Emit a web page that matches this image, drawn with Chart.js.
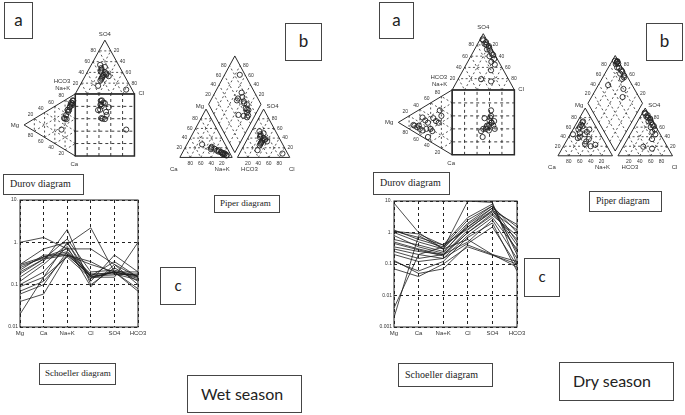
<!DOCTYPE html>
<html lang="en">
<head>
  <meta charset="UTF-8">
  <title>Hydrochemical facies - wet and dry season</title>
  <script src="https://cdn.jsdelivr.net/npm/chart.js"></script>
  <style>
    body { margin: 0; background: #fff; }
    .page { position: relative; width: 685px; height: 415px; overflow: hidden; background: #fff; }
    .plot { position: absolute; }
    .box {
      position: absolute;
      box-sizing: border-box;
      border: 1.5px solid #454545;
      background: #fff;
      color: #222;
      white-space: nowrap;
    }
    .letter { font-family: Lato, "Open Sans", sans-serif; font-size: 17px; text-align: center; }
    .caption { font-family: "Liberation Serif", serif; font-size: 10px; padding-left: 6px; }
    .season { font-family: Lato, "Open Sans", sans-serif; font-size: 16px; padding-left: 13px; }
  </style>
</head>
<body>
<div class="page">
  <!-- wet season -->
  <div class="box letter" style="left:4px;top:2px;width:29px;height:37px;line-height:33px;">a</div>
  <div class="plot" id="durovWetBox"><canvas id="durovWet"></canvas></div>
  <div class="box caption" style="left:3px;top:174px;width:81px;height:21px;line-height:18px;">Durov diagram</div>
  <div class="box letter" style="left:285px;top:23px;width:37px;height:38px;line-height:34px;">b</div>
  <div class="plot" id="piperWetBox"><canvas id="piperWet"></canvas></div>
  <div class="box caption" style="left:214px;top:195px;width:66px;height:18px;line-height:15px;font-size:9px;padding-left:5px;">Piper diagram</div>
  <div class="plot" id="schWetBox" style="left:0px;top:195px;width:150px;height:145px;"><canvas id="schWet"></canvas></div>
  <div class="box letter" style="left:160px;top:267px;width:36px;height:38px;line-height:34px;font-size:15px;">c</div>
  <div class="box caption" style="left:39px;top:363px;width:77px;height:22px;line-height:19px;font-size:9px;padding-left:5px;">Schoeller diagram</div>
  <div class="box season" style="left:187px;top:375px;width:115px;height:38px;line-height:35px;">Wet season</div>

  <!-- dry season -->
  <div class="box letter" style="left:379px;top:2px;width:35px;height:37px;line-height:33px;">a</div>
  <div class="plot" id="durovDryBox"><canvas id="durovDry"></canvas></div>
  <div class="box caption" style="left:373px;top:172px;width:77px;height:23px;line-height:20px;">Durov diagram</div>
  <div class="box letter" style="left:646px;top:23px;width:37px;height:38px;line-height:34px;">b</div>
  <div class="plot" id="piperDryBox"><canvas id="piperDry"></canvas></div>
  <div class="box caption" style="left:589px;top:191px;width:73px;height:21px;line-height:18px;font-size:9.5px;">Piper diagram</div>
  <div class="plot" id="schDryBox" style="left:370px;top:195px;width:160px;height:145px;"><canvas id="schDry"></canvas></div>
  <div class="box letter" style="left:524px;top:258px;width:36px;height:39px;line-height:35px;font-size:15px;">c</div>
  <div class="box caption" style="left:398px;top:363px;width:95px;height:24px;line-height:21px;">Schoeller diagram</div>
  <div class="box season" style="left:559px;top:362px;width:115px;height:39px;line-height:36px;">Dry season</div>
</div>
<script>
  // Schoeller categories and axis ticks
  const ions = ['Mg', 'Ca', 'Na+K', 'Cl', 'SO4', 'HCO3'];
  const wetTicks = [0.01, 0.1, 1, 10];
  const dryTicks = [0.001, 0.01, 0.1, 1, 10];
  const pctTicks = [20, 40, 60, 80];

  // wet season, % of meq/l
  const wetCa   = [10, 12, 8, 15, 20, 18, 25, 30, 44, 32, 14, 9, 22, 28, 12, 16];
  const wetMg   = [8, 6, 5, 10, 12, 15, 18, 20, 27, 17, 7, 4, 14, 22, 9, 11];
  const wetNaK  = [82, 82, 87, 75, 68, 67, 57, 50, 29, 51, 79, 87, 64, 50, 79, 73];
  const wetHCO3 = [35, 30, 40, 33, 54, 31, 28, 38, 10, 25, 45, 36, 30, 42, 32, 27];
  const wetSO4  = [35, 40, 30, 45, 15, 54, 38, 32, 8, 50, 25, 42, 36, 28, 48, 33];
  const wetCl   = [30, 30, 30, 22, 31, 15, 34, 30, 82, 25, 30, 22, 34, 30, 20, 40];

  // wet season Schoeller, meq/l in order Mg, Ca, Na+K, Cl, SO4, HCO3
  const wetSchoeller = [
    [1.0, 1.3, 0.7, 0.7, 0.3, 0.15],
    [0.3, 0.7, 1.0, 0.15, 0.2, 0.2],
    [0.25, 0.45, 0.6, 0.18, 0.18, 0.17],
    [0.2, 0.4, 0.5, 0.17, 0.2, 0.15],
    [0.15, 0.35, 2.0, 0.1, 0.25, 0.12],
    [0.12, 0.3, 0.9, 2.2, 0.2, 0.08],
    [0.09, 0.15, 1.0, 0.12, 0.5, 0.2],
    [0.07, 0.12, 0.5, 0.16, 0.35, 0.15],
    [0.06, 0.1, 0.6, 0.15, 0.15, 1.0],
    [0.04, 0.06, 0.5, 0.3, 0.2, 0.07],
    [0.02, 0.15, 0.45, 0.14, 0.2, 0.14],
    [0.3, 0.45, 0.7, 0.16, 0.17, 0.18],
    [0.18, 0.4, 1.2, 0.2, 0.22, 0.16],
    [0.22, 0.5, 0.5, 0.35, 0.18, 0.13],
    [0.1, 0.2, 0.8, 0.09, 0.3, 0.1],
    [0.28, 0.42, 0.55, 0.15, 0.2, 0.16]
  ];

  // dry season, % of meq/l
  const dryCa   = [30, 25, 35, 20, 28, 40, 22, 18, 45, 33, 26, 38, 15, 30, 50, 24, 36, 20];
  const dryMg   = [60, 65, 55, 70, 45, 40, 50, 72, 37, 30, 35, 25, 55, 20, 45, 62, 48, 23];
  const dryNaK  = [10, 10, 10, 10, 27, 20, 28, 10, 18, 37, 39, 37, 30, 50, 5, 14, 16, 57];
  const dryHCO3 = [3, 5, 2, 8, 4, 6, 10, 3, 44, 5, 7, 12, 4, 20, 6, 3, 9, 30];
  const drySO4  = [85, 80, 78, 72, 65, 88, 60, 75, 19, 55, 82, 50, 70, 35, 90, 62, 45, 15];
  const dryCl   = [12, 15, 20, 20, 31, 6, 30, 22, 37, 40, 11, 38, 26, 45, 4, 35, 46, 55];

  const drySchoeller = [
    [8.6, 1.0, 0.3, 10, 9, 0.1],
    [1.1, 0.9, 0.4, 3, 8, 0.2],
    [1.0, 0.5, 0.3, 2, 7, 0.5],
    [0.6, 0.4, 0.25, 1.5, 6, 1.5],
    [0.5, 0.3, 0.2, 1.2, 5, 1.8],
    [0.35, 0.25, 0.2, 1.0, 4, 0.6],
    [0.3, 0.2, 0.15, 0.8, 3, 0.3],
    [0.25, 0.15, 0.2, 0.5, 2.5, 0.15],
    [0.13, 0.05, 0.07, 0.4, 0.2, 0.08],
    [0.07, 0.04, 0.1, 0.35, 0.19, 0.1],
    [0.002, 0.8, 0.3, 0.6, 0.2, 0.12],
    [0.004, 0.2, 0.35, 1.5, 5, 0.4],
    [1.2, 0.6, 0.35, 2.5, 7, 1.0],
    [0.45, 0.28, 0.18, 1.0, 3.5, 0.8],
    [0.8, 0.35, 0.22, 1.8, 6, 0.25],
    [0.12, 0.06, 0.12, 0.7, 2.0, 0.06],
    [1.1, 0.7, 0.4, 1.3, 4.5, 1.2],
    [0.2, 0.12, 0.15, 0.45, 1.5, 0.09]
  ];

  // ---- diagram geometry (data units, triangle side = 100) ----
  const S3 = Math.sqrt(3) / 2;
  const durovTop = [[0, 100], [50, 100 + 100 * S3], [100, 100]];   // HCO3, SO4, Cl
  const durovLeft = [[0, 0], [-100 * S3, 50], [0, 100]];           // Ca, Mg, Na+K
  const durovSquare = [[0, 0], [100, 0], [100, 100], [0, 100]];
  const piperLeft = [[0, 0], [50, 100 * S3], [100, 0]];            // Ca, Mg, Na+K
  const piperRight = [[110, 0], [160, 100 * S3], [210, 0]];        // HCO3, SO4, Cl
  const dB = [105, 10 * S3], dL = [55, 110 * S3], dR = [155, 110 * S3], dT = [105, 210 * S3];

  function mix(corners, w) {
    const t = w[0] + w[1] + w[2];
    return [0, 1].map(i => (w[0] * corners[0][i] + w[1] * corners[1][i] + w[2] * corners[2][i]) / t);
  }
  function along(a, b, f) {
    return [a[0] + (b[0] - a[0]) * f, a[1] + (b[1] - a[1]) * f];
  }

  function durovSets(ca, mg, nak, hco3, so4, cl) {
    const left = [], top = [], sq = [];
    ca.forEach((_, i) => {
      const c = mix(durovLeft, [ca[i], mg[i], nak[i]]);
      const a = mix(durovTop, [hco3[i], so4[i], cl[i]]);
      left.push({ x: c[0], y: c[1] });
      top.push({ x: a[0], y: a[1] });
      sq.push({ x: a[0], y: c[1] });
    });
    return [left, top, sq];
  }

  function piperSets(ca, mg, nak, hco3, so4, cl) {
    const left = [], right = [], mid = [];
    ca.forEach((_, i) => {
      const c = mix(piperLeft, [ca[i], mg[i], nak[i]]);
      const a = mix(piperRight, [hco3[i], so4[i], cl[i]]);
      const f = (ca[i] + mg[i]) / (ca[i] + mg[i] + nak[i]);
      const g = (so4[i] + cl[i]) / (hco3[i] + so4[i] + cl[i]);
      left.push({ x: c[0], y: c[1] });
      right.push({ x: a[0], y: a[1] });
      mid.push({ x: dB[0] + f * (dL[0] - dB[0]) + g * (dR[0] - dB[0]),
                 y: dB[1] + f * (dL[1] - dB[1]) + g * (dR[1] - dB[1]) });
    });
    return [left, right, mid];
  }

  // ---- drawing helpers ----
  function px(chart, p) {
    return [chart.scales.x.getPixelForValue(p[0]), chart.scales.y.getPixelForValue(p[1])];
  }
  function poly(chart, pts, close) {
    const ctx = chart.ctx;
    ctx.beginPath();
    pts.forEach((p, i) => {
      const q = px(chart, p);
      if (i === 0) ctx.moveTo(q[0], q[1]); else ctx.lineTo(q[0], q[1]);
    });
    if (close) ctx.closePath();
    ctx.stroke();
  }
  function triGrid(chart, corners) {
    for (let k = 0; k < 3; k++) {
      pctTicks.forEach(v => {
        const a = [0, 0, 0], b = [0, 0, 0];
        a[k] = v; a[(k + 1) % 3] = 100 - v;
        b[k] = v; b[(k + 2) % 3] = 100 - v;
        poly(chart, [mix(corners, a), mix(corners, b)]);
      });
    }
  }
  function text(chart, str, p, dx, dy, align, base) {
    const ctx = chart.ctx;
    const q = px(chart, p);
    ctx.textAlign = align || 'center';
    ctx.textBaseline = base || 'middle';
    ctx.fillText(str, q[0] + dx, q[1] + dy);
  }
  function edgeLabels(chart, corners, wFn, dx, dy, align, base) {
    pctTicks.forEach(v => text(chart, String(v), mix(corners, wFn(v)), dx, dy, align, base));
  }
  function setPen(ctx, width, dash) {
    ctx.strokeStyle = '#2a2a2a';
    ctx.lineWidth = width;
    ctx.setLineDash(dash);
  }
  function labelFont(ctx, size) {
    ctx.fillStyle = '#333';
    ctx.font = size + 'px "Liberation Sans", Arial, sans-serif';
  }

  function drawDurov(chart) {
    const ctx = chart.ctx;
    ctx.save();
    setPen(ctx, 0.8, [2, 2.5]);
    triGrid(chart, durovTop);
    triGrid(chart, durovLeft);
    setPen(ctx, 0.9, [3, 3]);
    pctTicks.forEach(v => {
      poly(chart, [[v, 0], [v, 100]]);
      poly(chart, [[0, v], [100, v]]);
    });
    setPen(ctx, 1, []);
    poly(chart, durovTop, true);
    poly(chart, durovLeft, true);
    setPen(ctx, 1.5, []);
    poly(chart, durovSquare, true);

    labelFont(ctx, 5);
    edgeLabels(chart, durovTop, v => [100 - v, v, 0], -3, 0, 'right');
    edgeLabels(chart, durovTop, v => [0, 100 - v, v], 3, 0, 'left');
    edgeLabels(chart, durovLeft, v => [0, 100 - v, v], -1, -4, 'right');
    edgeLabels(chart, durovLeft, v => [100 - v, v, 0], -1, 4, 'right');

    labelFont(ctx, 6);
    text(chart, 'SO4', durovTop[1], 0, -6);
    text(chart, 'Cl', durovTop[2], 4, -1, 'left');
    text(chart, 'HCO3', durovTop[0], -5, -13, 'right');
    text(chart, 'Na+K', durovTop[0], -5, -6, 'right');
    text(chart, 'Mg', durovLeft[1], -5, 0, 'right');
    text(chart, 'Ca', durovLeft[0], -1, 8);
    ctx.restore();
  }

  function drawPiper(chart) {
    const ctx = chart.ctx;
    const diamond = [dB, dR, dT, dL];
    ctx.save();
    setPen(ctx, 0.8, [2, 2.5]);
    triGrid(chart, piperLeft);
    triGrid(chart, piperRight);
    pctTicks.forEach(v => {
      const a = along(dB, dL, v / 100), b = along(dB, dR, v / 100);
      poly(chart, [a, [a[0] + dR[0] - dB[0], a[1] + dR[1] - dB[1]]]);
      poly(chart, [b, [b[0] + dL[0] - dB[0], b[1] + dL[1] - dB[1]]]);
    });
    setPen(ctx, 1, []);
    poly(chart, piperLeft, true);
    poly(chart, piperRight, true);
    poly(chart, diamond, true);

    labelFont(ctx, 5);
    edgeLabels(chart, piperLeft, v => [100 - v, v, 0], -3, 0, 'right');
    edgeLabels(chart, piperLeft, v => [v, 0, 100 - v], 0, 6);
    edgeLabels(chart, piperRight, v => [0, v, 100 - v], 3, 0, 'left');
    edgeLabels(chart, piperRight, v => [100 - v, 0, v], 0, 6);
    pctTicks.forEach(v => {
      text(chart, String(v), along(dL, dT, v / 100), -3, 0, 'right');
      text(chart, String(v), along(dR, dT, v / 100), 3, 0, 'left');
    });

    labelFont(ctx, 6);
    text(chart, 'Mg', piperLeft[1], -2, -3, 'right');
    text(chart, 'SO4', piperRight[1], 3, -3, 'left');
    text(chart, 'Ca', piperLeft[0], -6, 12);
    text(chart, 'Na+K', piperLeft[2], -10, 12);
    text(chart, 'HCO3', piperRight[0], 12, 12);
    text(chart, 'Cl', piperRight[2], 2, 12);
    ctx.restore();
  }

  // position a diagram: ox/oy = page pixel of data (0,0), kx/ky = px per unit
  function mount(id, box) {
    const el = document.getElementById(id + 'Box');
    Object.assign(el.style, { left: box.left + 'px', top: box.top + 'px', width: box.w + 'px', height: box.h + 'px' });
    const xMin = -(box.ox - box.left) / box.kx;
    const yMax = (box.oy - box.top) / box.ky;
    return { xMin: xMin, xMax: xMin + box.w / box.kx, yMin: yMax - box.h / box.ky, yMax: yMax };
  }

  function ternary(id, box, sets, draw) {
    const r = mount(id, box);
    new Chart(document.getElementById(id), {
      type: 'scatter',
      data: {
        datasets: sets.map(d => ({
          data: d,
          borderColor: '#222',
          backgroundColor: 'rgba(255,255,255,0)',
          borderWidth: 0.9,
          pointRadius: 2.6
        }))
      },
      options: {
        responsive: true,
        maintainAspectRatio: false,
        animation: false,
        layout: { padding: 0 },
        plugins: { legend: { display: false }, tooltip: { enabled: false } },
        scales: {
          x: { type: 'linear', display: false, min: r.xMin, max: r.xMax },
          y: { type: 'linear', display: false, min: r.yMin, max: r.yMax }
        }
      },
      plugins: [{ id: 'frame', beforeDatasetsDraw: draw }]
    });
  }

  const outline = {
    id: 'outline',
    afterDraw(chart) {
      const { ctx, chartArea: a } = chart;
      ctx.save();
      ctx.strokeStyle = '#222';
      ctx.lineWidth = 1;
      ctx.strokeRect(a.left, a.top, a.right - a.left, a.bottom - a.top);
      ctx.restore();
    }
  };

  function schoeller(id, series, ticks, axisWidth, pad) {
    new Chart(document.getElementById(id), {
      type: 'line',
      data: {
        labels: ions,
        datasets: series.map(s => ({
          data: s,
          borderColor: '#1e1e1e',
          borderWidth: 0.8,
          pointRadius: 0,
          fill: false,
          tension: 0
        }))
      },
      options: {
        responsive: true,
        maintainAspectRatio: false,
        animation: false,
        layout: { padding: pad },
        plugins: { legend: { display: false }, tooltip: { enabled: false } },
        scales: {
          x: {
            offset: false,
            grid: { color: '#222', lineWidth: 1, drawTicks: false },
            border: { display: false, dash: [3, 3] },
            ticks: { font: { size: 6, family: '"Liberation Sans", Arial' }, color: '#333', padding: 3, maxRotation: 0, autoSkip: false },
            afterFit(s) { s.height = 12; }
          },
          y: {
            type: 'logarithmic',
            min: ticks[0],
            max: ticks[ticks.length - 1],
            afterBuildTicks(s) { s.ticks = ticks.map(v => ({ value: v })); },
            grid: { color: '#222', lineWidth: 1, drawTicks: false },
            border: { display: false, dash: [3, 3] },
            ticks: {
              font: { size: 5, family: '"Liberation Sans", Arial' },
              color: '#333',
              padding: 2,
              callback: v => (v >= 1 ? v + '.' : String(v))
            },
            afterFit(s) { s.width = axisWidth; }
          }
        }
      },
      plugins: [outline]
    });
  }

  ternary('durovWet', { left: 0, top: 10, w: 160, h: 165, ox: 75, oy: 160, kx: 0.63, ky: 0.66 },
    durovSets(wetCa, wetMg, wetNaK, wetHCO3, wetSO4, wetCl), drawDurov);
  ternary('piperWet', { left: 160, top: 40, w: 150, h: 140, ox: 176, oy: 161, kx: 0.56, ky: 0.6 },
    piperSets(wetCa, wetMg, wetNaK, wetHCO3, wetSO4, wetCl), drawPiper);
  ternary('durovDry', { left: 370, top: 5, w: 170, h: 167, ox: 452, oy: 159, kx: 0.66, ky: 0.69 },
    durovSets(dryCa, dryMg, dryNaK, dryHCO3, drySO4, dryCl), drawDurov);
  ternary('piperDry', { left: 540, top: 35, w: 145, h: 150, ox: 554, oy: 159, kx: 0.585, ky: 0.59 },
    piperSets(dryCa, dryMg, dryNaK, dryHCO3, drySO4, dryCl), drawPiper);

  schoeller('schWet', wetSchoeller, wetTicks, 20, { top: 5, right: 12, bottom: 1, left: 0 });
  schoeller('schDry', drySchoeller, dryTicks, 24, { top: 6, right: 13, bottom: 1, left: 0 });
</script>
</body>
</html>
